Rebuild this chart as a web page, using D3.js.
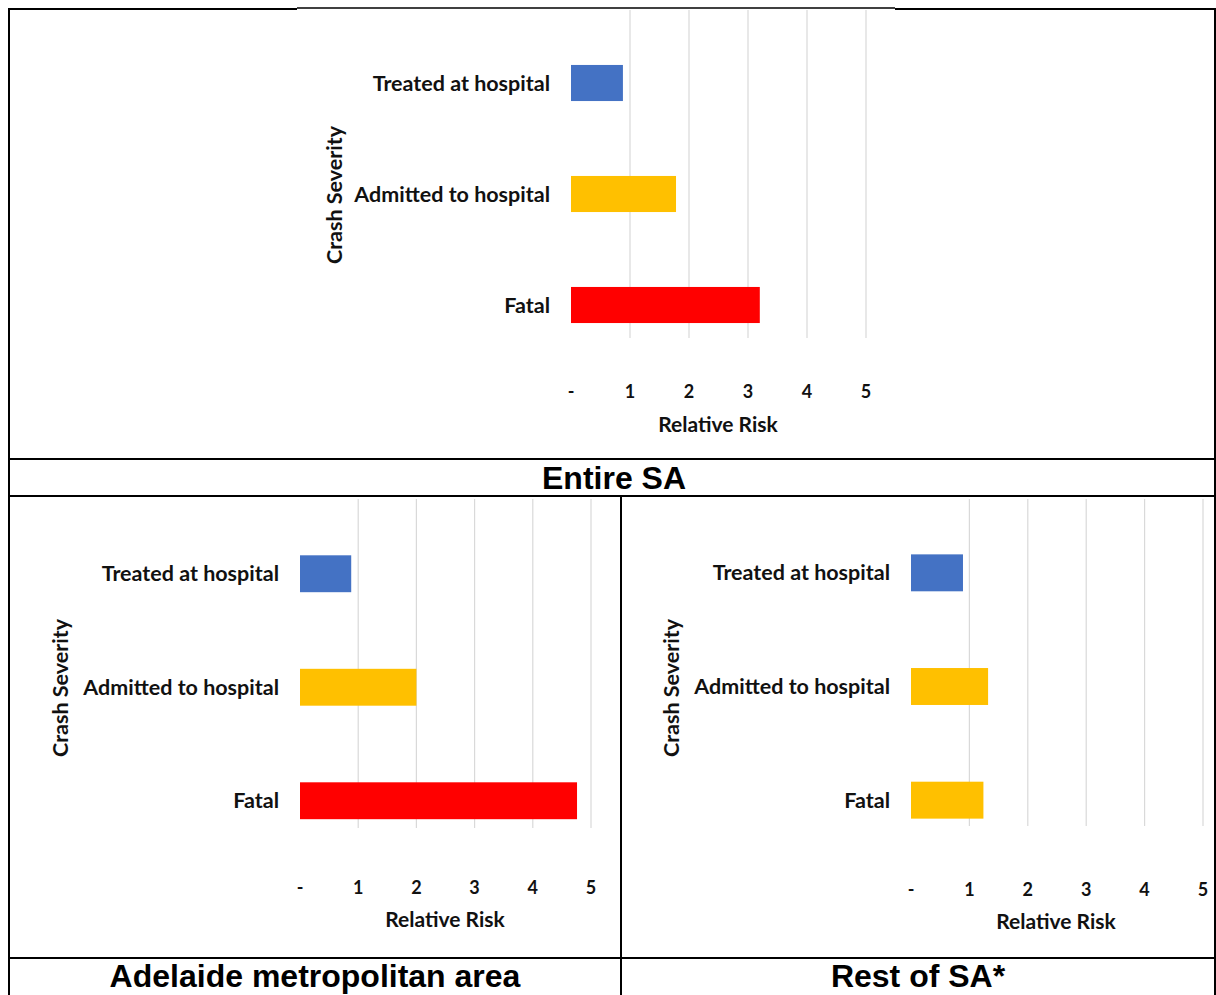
<!DOCTYPE html>
<html>
<head>
<meta charset="utf-8">
<script src="https://cdn.jsdelivr.net/npm/d3@7"></script>
<style>
  html, body { margin: 0; padding: 0; background: #ffffff; }
  svg { display: block; }
  .cat, .tick-lbl, .axis-title { font-family: Lato, "Open Sans", sans-serif; font-weight: 700; fill: #111; }
  .panel-title { font-family: "Liberation Sans", Arial, sans-serif; font-weight: 700; fill: #000; }
</style>
</head>
<body>
<svg id="chart" width="1216" height="995"></svg>
<script>
// Crash severity categories (top to bottom)
const categories = ["Treated at hospital", "Admitted to hospital", "Fatal"];

// Relative risk per severity level
const entireSA = [0.88, 1.78, 3.2];
const adelaideMetro = [0.88, 2.0, 4.76];
const restOfSA = [0.89, 1.32, 1.24];

// Axis ticks and panel captions
const xTicks = [0, 1, 2, 3, 4, 5];
const panelTitles = ["Entire SA", "Adelaide metropolitan area", "Rest of SA*"];
const xAxisTitle = "Relative Risk";
const yAxisTitle = "Crash Severity";

// Bar colours
const BLUE = "#4472C4", AMBER = "#FFC000", RED = "#FF0000";

const svg = d3.select("#chart");

function drawPanel(opt) {
  const g = svg.append("g");
  const x = d3.scaleLinear().domain([0, 5]).range([opt.x0, opt.x5]);
  const y = d3.scaleBand().domain(categories)
    .range(opt.yRange).paddingInner(0.675).paddingOuter(0.3375);

  // vertical gridlines
  g.selectAll("line.grid").data(xTicks.slice(1)).join("line")
    .attr("class", "grid")
    .attr("x1", d => x(d)).attr("x2", d => x(d))
    .attr("y1", opt.gridTop).attr("y2", opt.gridBottom)
    .attr("stroke", "#d9d9d9").attr("stroke-width", 1.2);

  // bars
  g.selectAll("rect.bar").data(opt.values).join("rect")
    .attr("class", "bar")
    .attr("x", x(0))
    .attr("y", (d, i) => y(categories[i]))
    .attr("width", d => x(d) - x(0))
    .attr("height", y.bandwidth())
    .attr("fill", (d, i) => opt.colors[i]);

  // category labels
  g.selectAll("text.cat").data(categories).join("text")
    .attr("class", "cat")
    .attr("x", x(0) - 21)
    .attr("y", d => y(d) + y.bandwidth() / 2)
    .attr("dy", "0.35em")
    .attr("text-anchor", "end")
    .attr("font-size", 21.5)
    .text(d => d);

  // x tick labels
  g.selectAll("text.tick-lbl").data(xTicks).join("text")
    .attr("class", "tick-lbl")
    .attr("x", d => x(d))
    .attr("y", opt.tickY)
    .attr("text-anchor", "middle")
    .attr("font-size", 18)
    .text(d => d === 0 ? "-" : d3.format("d")(d));

  // axis titles
  g.append("text").attr("class", "axis-title")
    .attr("x", opt.xTitleX).attr("y", opt.xTitleY)
    .attr("text-anchor", "middle").attr("font-size", 21)
    .text(xAxisTitle);

  g.append("text").attr("class", "axis-title")
    .attr("transform", `translate(${opt.yTitleX},${opt.yTitleY}) rotate(-90)`)
    .attr("text-anchor", "middle").attr("dy", "0.35em").attr("font-size", 21.5)
    .text(yAxisTitle);
}

drawPanel({
  values: entireSA, colors: [BLUE, AMBER, RED],
  x0: 571, x5: 866, yRange: [27.5, 360.5], gridTop: 10, gridBottom: 338,
  tickY: 398, xTitleX: 718, xTitleY: 432, yTitleX: 334, yTitleY: 195
});
drawPanel({
  values: adelaideMetro, colors: [BLUE, AMBER, RED],
  x0: 300, x5: 591, yRange: [517, 857.5], gridTop: 499, gridBottom: 828,
  tickY: 894, xTitleX: 445, xTitleY: 927, yTitleX: 60, yTitleY: 688
});
drawPanel({
  values: restOfSA, colors: [BLUE, AMBER, AMBER],
  x0: 911, x5: 1203, yRange: [516, 857], gridTop: 499, gridBottom: 826,
  tickY: 896, xTitleX: 1056, xTitleY: 929, yTitleX: 671, yTitleY: 688
});

// table frame
const frame = [
  [9, 9, 297, 9], [895, 9, 1216, 9], [297, 8, 895, 8],
  [9, 8, 9, 995], [1215, 8, 1215, 995],
  [9, 459, 1216, 459], [9, 496, 1216, 496],
  [621, 496, 621, 995], [9, 958, 1216, 958]
];
svg.selectAll("line.frame").data(frame).join("line")
  .attr("class", "frame")
  .attr("x1", d => d[0]).attr("y1", d => d[1])
  .attr("x2", d => d[2]).attr("y2", d => d[3])
  .attr("stroke", "#000").attr("stroke-width", (d, i) => i === 2 ? 1.5 : 2);

// panel captions
const titlePos = [[614, 489], [315, 987], [918, 987]];
svg.selectAll("text.panel-title").data(panelTitles).join("text")
  .attr("class", "panel-title")
  .attr("x", (d, i) => titlePos[i][0]).attr("y", (d, i) => titlePos[i][1])
  .attr("text-anchor", "middle").attr("font-size", 32)
  .text(d => d);
</script>
</body>
</html>
